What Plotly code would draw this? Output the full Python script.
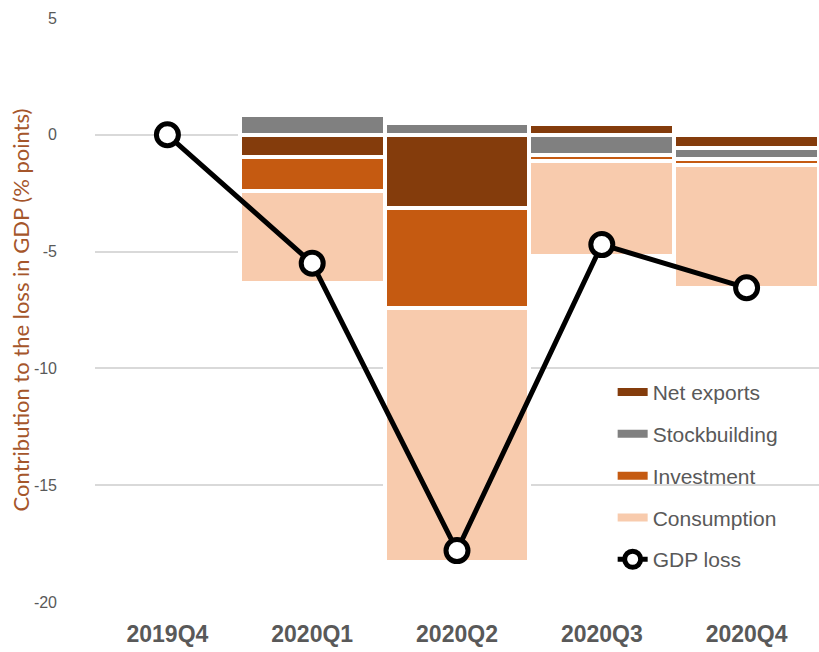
import plotly.graph_objects as go

# Quarterly contributions to the GDP loss (percentage points)
categories = ["2019Q4", "2020Q1", "2020Q2", "2020Q3", "2020Q4"]
net_exports = [None, -0.95, -3.15, 0.45, -0.57]
stockbuilding = [None, 0.85, 0.5, -0.87, -0.45]
investment = [None, -1.45, -4.25, -0.27, -0.27]
consumption = [None, -3.95, -10.9, -4.05, -5.27]
gdp_loss = [0, -5.5, -17.8, -4.7, -6.55]

y_tick_values = [-20, -15, -10, -5, 0, 5]
y_tick_labels = ["-20", "-15", "-10", "-5", "0", "5"]

COMPONENTS = [
    ("Net exports", net_exports, "#843C0C"),
    ("Stockbuilding", stockbuilding, "#808080"),
    ("Investment", investment, "#C55A11"),
    ("Consumption", consumption, "#F8CBAD"),
]

fig = go.Figure()
for name, values, color in COMPONENTS:
    fig.add_trace(go.Bar(
        x=categories, y=values, name=name,
        marker=dict(color=color, line=dict(color="white", width=4)),
        showlegend=False,
    ))
    # legend swatch drawn as a thick line, like the original
    fig.add_trace(go.Scatter(
        x=[None], y=[None], name=name, mode="lines",
        line=dict(color=color, width=8), legendgroup=name,
    ))

fig.add_trace(go.Scatter(
    x=categories, y=gdp_loss, name="GDP loss", mode="lines+markers",
    line=dict(color="black", width=5),
    marker=dict(size=22, color="white", line=dict(color="black", width=5)),
    legendgroup="gdp",
))

# white box behind the legend, above the gridlines
fig.add_shape(
    type="rect", xref="paper", yref="paper", x0=0.635, x1=1, y0=0.012, y1=0.389,
    fillcolor="white", line=dict(width=0), layer="between",
)

fig.add_annotation(
    text="Contribution to the loss in GDP (% points)",
    xref="paper", yref="paper", x=-0.103, y=0.5, xanchor="center", yanchor="middle",
    textangle=-90, showarrow=False,
    font=dict(family="Lato", size=22, color="#A5562B"),
)

fig.update_layout(
    width=819, height=652,
    margin=dict(l=95, r=0, t=18, b=50),
    paper_bgcolor="white", plot_bgcolor="white",
    barmode="relative", bargap=0,
    showlegend=True,
    legend=dict(
        x=0.715, y=0.394, xanchor="left", yanchor="top",
        traceorder="grouped", tracegroupgap=11.5,
        bgcolor="rgba(0,0,0,0)",
        font=dict(family="Liberation Sans, Arial, sans-serif", size=21, color="#595959"),
    ),
    xaxis=dict(
        showgrid=False, showline=False, zeroline=False, automargin=False,
        tickfont=dict(family="Liberation Sans, Arial, sans-serif",
                      size=23, color="#595959", weight="bold"),
        ticklabelstandoff=16,
    ),
    yaxis=dict(
        range=[-20, 5], tickvals=y_tick_values, ticktext=y_tick_labels,
        automargin=False,
        gridcolor="#D9D9D9", gridwidth=1.5,
        zeroline=True, zerolinecolor="#D9D9D9", zerolinewidth=2,
        tickfont=dict(family="Liberation Sans, Arial, sans-serif", size=16, color="#595959"),
        ticklabelstandoff=37,
    ),
)

fig.write_html("out.html", config={"displayModeBar": False},
               post_script="document.body.style.margin='0';")
